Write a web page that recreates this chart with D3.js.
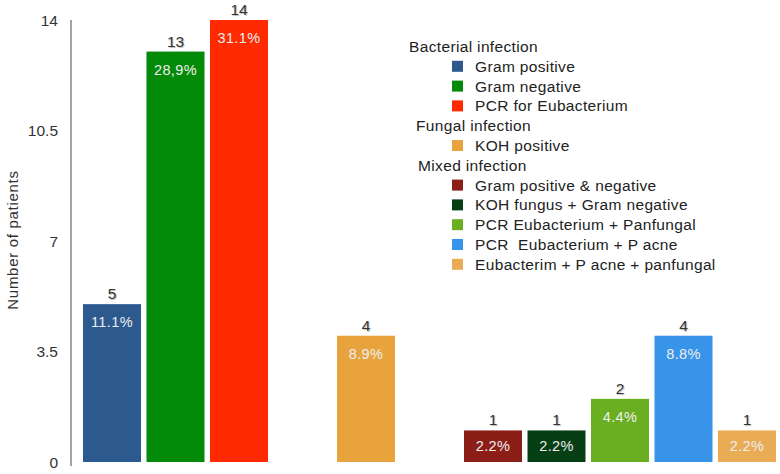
<!DOCTYPE html>
<html><head><meta charset="utf-8">
<script src="https://cdn.jsdelivr.net/npm/d3@7"></script>
<style>body{margin:0;background:#fff}svg{display:block;font-family:"Liberation Sans",Arial,sans-serif}</style>
</head><body><svg id="c" width="780" height="474"></svg>
<script>
// slots (spacers keep group gaps)
const slots = ["Gram positive","Gram negative","PCR for Eubacterium","_gap1","KOH positive","_gap2",
  "Gram positive & negative","KOH fungus + Gram negative","PCR Eubacterium + Panfungal","PCR  Eubacterium + P acne","Eubacterim + P acne + panfungal"];
const categories = ["Gram positive","Gram negative","PCR for Eubacterium","KOH positive",
  "Gram positive & negative","KOH fungus + Gram negative","PCR Eubacterium + Panfungal","PCR  Eubacterium + P acne","Eubacterim + P acne + panfungal"];
const counts = [5,13,14,4,1,1,2,4,1];
const percents = ["11.1%","28,9%","31.1%","8.9%","2.2%","2.2%","4.4%","8.8%","2.2%"];
const colors = ["#2d5a8e","#038a08","#ff2a00","#e8a33d","#8b1f17","#073f14","#6aae21","#3894e8","#eaab55"];
const groups = ["Bacterial infection","Fungal infection","Mixed infection"];
const groupOf = [0,0,0,1,2,2,2,2,2];
const yTicks = [0,3.5,7,10.5,14];
const yLabel = "Number of patients";

const svg = d3.select("#c");
const x = d3.scaleBand().domain(slots).range([80.25, 778.75]).paddingInner(0.0866).paddingOuter(0.0433);
const y = d3.scaleLinear().domain([0,14]).range([462,20]);

// axis
const ax = svg.append("g").attr("transform","translate(71,0)")
  .call(d3.axisLeft(y).tickValues(yTicks).tickSize(0).tickPadding(13).tickFormat(d=>String(d)));
ax.select(".domain").attr("stroke","#666").attr("stroke-width",1.2).attr("d","M0,20V466");
ax.selectAll("text").attr("font-size",15.5).attr("fill","#333").attr("dy","0.35em");

svg.append("text").attr("transform","translate(18,240) rotate(-90)")
  .attr("text-anchor","middle").attr("font-size",15).attr("letter-spacing",0.7).attr("fill","#333").text(yLabel);

const data = categories.map((c,i)=>({c,v:counts[i],p:percents[i],col:colors[i]}));
const g = svg.append("g");
g.selectAll("rect").data(data).join("rect")
  .attr("x",d=>x(d.c)).attr("width",x.bandwidth())
  .attr("y",d=>y(d.v)).attr("height",d=>y(0)-y(d.v)).attr("fill",d=>d.col);
g.selectAll("text.v").data(data).join("text").attr("class","v")
  .attr("x",d=>x(d.c)+x.bandwidth()/2).attr("y",d=>y(d.v)-5)
  .attr("text-anchor","middle").attr("font-size",15.5).attr("fill","#333")
  .style("text-shadow","1px 1px 1px #bbb").text(d=>d.v);
g.selectAll("text.p").data(data).join("text").attr("class","p")
  .attr("x",d=>x(d.c)+x.bandwidth()/2).attr("y",d=>y(d.v)+ (d.v<=1?21:23))
  .attr("text-anchor","middle").attr("font-size",14.5).attr("letter-spacing",0.4).attr("fill","#eee").text(d=>d.p);

// legend
const lg = svg.append("g").attr("font-size",15.5).attr("letter-spacing",0.35).attr("fill","#222");
const rowH = 19.8;
let row = 0;
const headerX = [409,416,418];
groups.forEach((gr,gi)=>{
  lg.append("text").attr("x",headerX[gi]).attr("y",52+row*rowH).attr("fill","#222").text(gr);
  row++;
  categories.forEach((c,i)=>{
    if(groupOf[i]!==gi) return;
    const yy = 52+row*rowH;
    lg.append("rect").attr("x",452).attr("y",yy-11).attr("width",11).attr("height",11).attr("fill",colors[i]);
    lg.append("text").attr("x",475).attr("y",yy).attr("fill","#222").text(c.replace("  ","\u00a0 "));
    row++;
  });
});
</script></body></html>
